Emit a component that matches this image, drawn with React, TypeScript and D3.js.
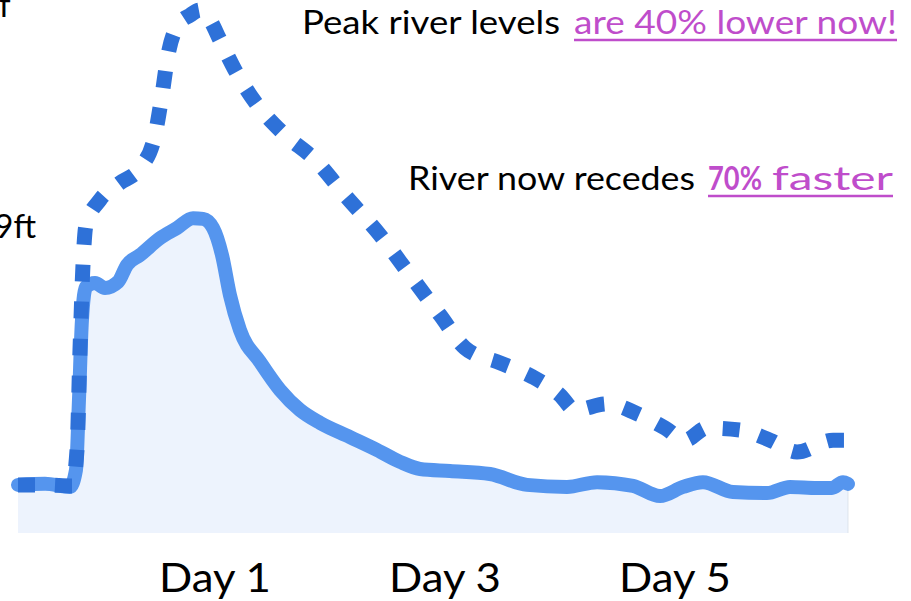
import * as d3 from 'd3';

// day offsets (x) and river level in ft (y)
const nowDays = [-0.713, -0.478, -0.261, -0.209, -0.183, -0.157, -0.122, -0.043, 0.043, 0.157, 0.235, 0.348, 0.522, 0.67, 0.809, 0.896, 0.983, 1.061, 1.13, 1.217, 1.391, 1.565, 1.739, 1.913, 2.174, 2.409, 2.609, 2.783, 3.043, 3.391, 3.713, 4.061, 4.322, 4.635, 4.87, 5.07, 5.243, 5.504, 5.8, 6.0, 6.235, 6.365, 6.461, 6.504];
const nowLevels = [1.42, 1.45, 1.36, 1.86, 3.92, 6.28, 7.26, 7.38, 7.23, 7.41, 7.91, 8.2, 8.7, 9.0, 9.29, 9.27, 9.0, 8.2, 7.02, 5.99, 5.05, 4.22, 3.63, 3.25, 2.83, 2.45, 2.1, 1.89, 1.83, 1.74, 1.42, 1.36, 1.5, 1.39, 1.09, 1.36, 1.5, 1.21, 1.18, 1.36, 1.33, 1.33, 1.5, 1.45];

const beforeDays = [-0.713, -0.478, -0.243, -0.2, -0.174, -0.148, -0.122, 0, 0.174, 0.348, 0.478, 0.539, 0.591, 0.678, 0.783, 0.87, 0.957, 1.043, 1.174, 1.348, 1.591, 1.87, 2.13, 2.435, 2.696, 2.957, 3.174, 3.478, 3.765, 4.0, 4.13, 4.409, 4.696, 4.913, 5.087, 5.278, 5.565, 5.826, 6.061, 6.374, 6.504];
const beforeLevels = [1.42, 1.42, 1.39, 2.45, 5.4, 7.91, 9.09, 9.83, 10.33, 10.77, 11.74, 12.92, 14.1, 14.99, 15.28, 15.43, 15.14, 14.55, 13.66, 12.72, 11.8, 11.01, 9.97, 8.79, 7.61, 6.43, 5.46, 5.02, 4.6, 4.07, 3.63, 3.81, 3.48, 3.1, 2.74, 3.1, 3.04, 2.74, 2.39, 2.74, 2.74];

const dayTicks = [1, 3, 5];
const yLabels = [{ value: 9, text: '9ft' }];

type Pt = { d: number; v: number };

export default function App() {
  const width = 911;
  const height = 601;

  const x = d3.scaleLinear().domain([0, 1]).range([100, 215]);
  const y = d3.scaleLinear().domain([0, 9]).range([533, 228]);

  const now: Pt[] = nowDays.map((d, i) => ({ d, v: nowLevels[i] }));
  const before: Pt[] = beforeDays.map((d, i) => ({ d, v: beforeLevels[i] }));

  const line = d3.line<Pt>()
    .x(p => x(p.d))
    .y(p => y(p.v))
    .curve(d3.curveMonotoneX);

  const area = d3.area<Pt>()
    .x(p => x(p.d))
    .y0(y(0))
    .y1(p => y(p.v))
    .curve(d3.curveMonotoneX);

  const font = 'Lato, "Open Sans", sans-serif';
  const purple = '#BF4DCB';

  return (
    <svg width={width} height={height} style={{ position: 'absolute', left: 0, top: 0, background: '#fff' }}>
      <path d={area(now) ?? ''} fill="#EDF3FD" />
      <line x1={x(6.504)} x2={x(6.504)} y1={y(1.4)} y2={y(0)} stroke="#dde3ec" strokeWidth={1} />
      <path d={line(now) ?? ''} fill="none" stroke="#5595EE" strokeWidth={14} strokeLinejoin="round" strokeLinecap="round" />
      <path d={line(before) ?? ''} fill="none" stroke="#2E71D8" strokeWidth={15} strokeDasharray="17 20" />

      {/* axis labels */}
      {dayTicks.map(t => (
        <text key={t} x={x(t)} y={592} textAnchor="middle" fontFamily={font} fontSize={40} fill="#000"
          textLength={112} lengthAdjust="spacingAndGlyphs">
          {`Day ${t}`}
        </text>
      ))}
      {yLabels.map(l => (
        <text key={l.text} x={36} y={y(l.value) + 10} textAnchor="end" fontFamily={font} fontSize={33} fill="#000">
          {l.text}
        </text>
      ))}
      <text x={-1} y={17} fontFamily={font} fontSize={33} fill="#000">f</text>

      {/* annotations */}
      <text y={34} fontFamily={font} fontSize={33} fill="#000">
        <tspan x={302} textLength={258} lengthAdjust="spacingAndGlyphs">Peak river levels</tspan>
        <tspan x={574} fill={purple} textLength={323} lengthAdjust="spacingAndGlyphs">are 40% lower now!</tspan>
      </text>
      <line x1={574} x2={897} y1={40} y2={40} stroke={purple} strokeWidth={2.5} />

      <text y={190} fontFamily={font} fontSize={33} fill="#000">
        <tspan x={408} textLength={287} lengthAdjust="spacingAndGlyphs">River now recedes</tspan>
        <tspan x={708} fill={purple} fontWeight="bold" textLength={54} lengthAdjust="spacingAndGlyphs">70%</tspan>
        <tspan x={772} fill={purple} textLength={121} lengthAdjust="spacingAndGlyphs">faster</tspan>
      </text>
      <line x1={708} x2={893} y1={196} y2={196} stroke={purple} strokeWidth={2.5} />
    </svg>
  );
}
